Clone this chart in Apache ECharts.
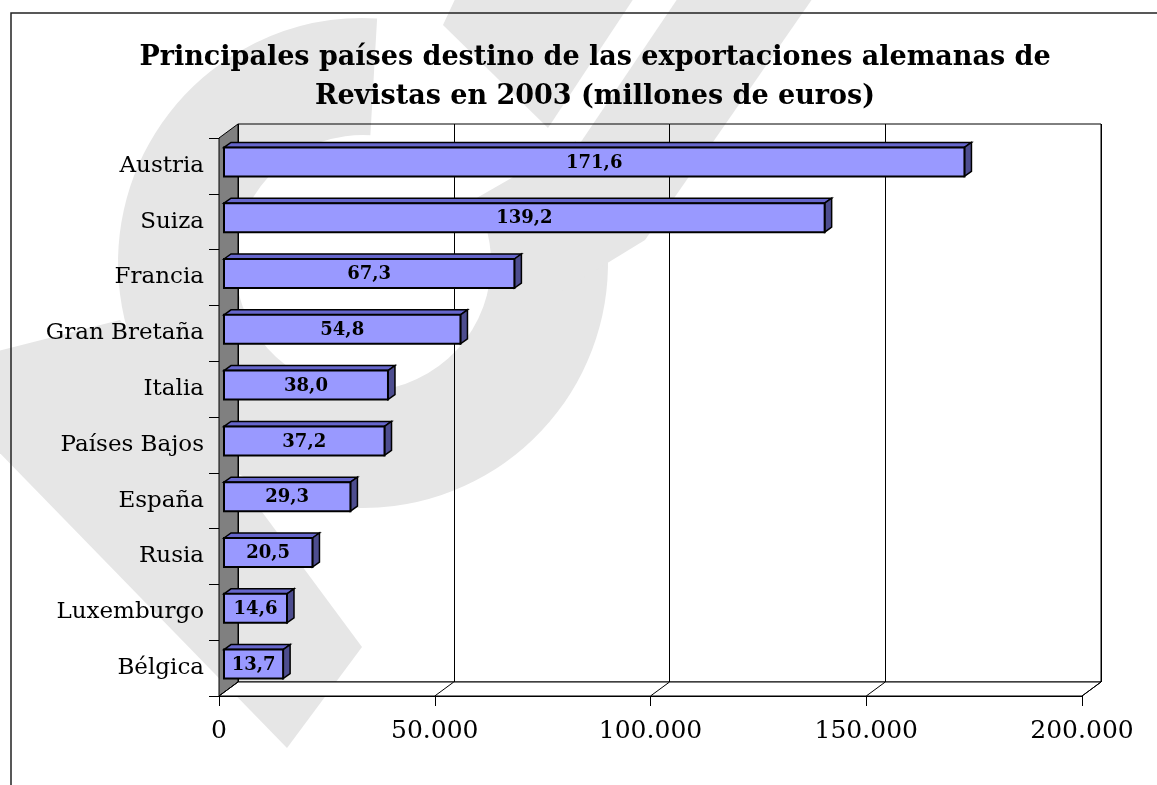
<!DOCTYPE html>
<html>
<head>
<meta charset="utf-8">
<title>Exportaciones alemanas de revistas 2003</title>
<script src="https://cdn.jsdelivr.net/npm/echarts@6/dist/echarts.min.js"></script>
<style>
  html, body { margin: 0; padding: 0; background: #fff; }
  #main { width: 1157px; height: 785px; }
</style>
</head>
<body>
<div id="main"></div>
<script>
// datos del gráfico
const paises = ['Austria', 'Suiza', 'Francia', 'Gran Bretaña', 'Italia', 'Países Bajos', 'España', 'Rusia', 'Luxemburgo', 'Bélgica'];
const millones = [171.6, 139.2, 67.3, 54.8, 38.0, 37.2, 29.3, 20.5, 14.6, 13.7]; // millones de euros
const ticksEje = [0, 50000, 100000, 150000, 200000]; // miles de euros
const titulo = 'Principales países destino de las exportaciones alemanas de\nRevistas en 2003 (millones de euros)';

const FONT = '"DejaVu Serif", serif';
const DX = 19, DY = 14; // profundidad de paredes y suelo
const BX = 5, BY = 4;   // la cara frontal de la barra queda un poco hacia dentro
const PX = 7, PY = 5;   // grosor de la barra

const myChart = echarts.init(document.getElementById('main'));

function fmtMiles(v) {
  return String(v).replace(/\B(?=(\d{3})+(?!\d))/g, '.');
}

// pared izquierda + suelo
function renderParedes(params, api) {
  const cs = params.coordSys;
  const x0 = cs.x, y0 = cs.y, y1 = cs.y + cs.height;
  const xEnd = api.coord([ticksEje[ticksEje.length - 1], 0])[0];
  const children = [
    {
      type: 'polygon',
      shape: { points: [[x0, y0], [x0 + DX, y0 - DY], [x0 + DX, y1 - DY], [x0, y1]] },
      style: { fill: '#808080', stroke: '#000', lineWidth: 1 }
    },
    {
      type: 'polygon',
      shape: { points: [[x0, y1], [x0 + DX, y1 - DY], [xEnd + DX, y1 - DY], [xEnd, y1]] },
      style: { fill: '#fff', stroke: '#000', lineWidth: 1 }
    }
  ];
  ticksEje.forEach(t => {
    const x = api.coord([t, 0])[0];
    children.push({
      type: 'line',
      shape: { x1: x, y1: y1, x2: x + DX, y2: y1 - DY },
      style: { stroke: '#000', lineWidth: 1 }
    });
  });
  return { type: 'group', children };
}

// barra 3D
function renderBarra(params, api) {
  const cat = api.value(0);
  const val = api.value(1);
  const p0 = api.coord([0, cat]);
  const p1 = api.coord([val, cat]);
  const h = api.size([0, 1])[1] * 0.52;
  const xa = p0[0] + BX, xb = p1[0] + BX;
  const yt = p0[1] - BY - h / 2, yb = yt + h;
  const texto = millones[params.dataIndex].toFixed(1).replace('.', ',');
  return {
    type: 'group',
    children: [
      {
        type: 'polygon',
        shape: { points: [[xa, yt], [xa + PX, yt - PY], [xb + PX, yt - PY], [xb, yt]] },
        style: { fill: '#6666cc', stroke: '#000', lineWidth: 1.5 }
      },
      {
        type: 'polygon',
        shape: { points: [[xb, yt], [xb + PX, yt - PY], [xb + PX, yb - PY], [xb, yb]] },
        style: { fill: '#4d4d8f', stroke: '#000', lineWidth: 1.5 }
      },
      {
        type: 'rect',
        shape: { x: xa, y: yt, width: xb - xa, height: h },
        style: { fill: '#9999ff', stroke: '#000', lineWidth: 2 }
      },
      {
        type: 'text',
        x: (xa + xb) / 2,
        y: (yt + yb) / 2 + 1,
        style: {
          text: texto,
          fill: '#000',
          fontFamily: FONT,
          fontWeight: 'bold',
          fontSize: 18,
          align: 'center',
          verticalAlign: 'middle'
        }
      }
    ]
  };
}

const option = {
  backgroundColor: '#fff',
  animation: false,
  title: {
    text: titulo,
    left: 590,
    top: 33,
    textAlign: 'center',
    textStyle: {
      fontFamily: FONT,
      fontWeight: 'bold',
      fontSize: 27,
      lineHeight: 39,
      color: '#000'
    }
  },
  graphic: [
    // marca de agua
    {
      type: 'sector', z: -10, silent: true,
      shape: { cx: 363, cy: 263, r: 245, r0: 128, startAngle: -0.52, endAngle: 4.77, clockwise: true },
      style: { fill: '#e6e6e6' }
    },
    {
      type: 'polygon', z: -10, silent: true,
      shape: { points: [[680, -5], [815, -5], [645, 240], [560, 292], [500, 262]] },
      style: { fill: '#e6e6e6' }
    },
    {
      type: 'polygon', z: -10, silent: true,
      shape: { points: [[457, -5], [636, -5], [548, 128], [443, 25]] },
      style: { fill: '#e6e6e6' }
    },
    {
      type: 'polygon', z: -10, silent: true,
      shape: { points: [[120, 320], [362, 647], [287, 748], [-80, 371]] },
      style: { fill: '#e6e6e6' }
    },
    // marco
    {
      type: 'rect', z: -5, silent: true,
      shape: { x: 11, y: 13, width: 1170, height: 800 },
      style: { fill: 'none', stroke: '#222', lineWidth: 1.5 }
    }
  ],
  grid: [
    { left: 219, top: 138, width: 863, height: 558 },
    { left: 238, top: 124, width: 863, height: 558, show: true, borderColor: '#000', borderWidth: 1, backgroundColor: 'transparent' }
  ],
  xAxis: [
    {
      gridIndex: 0, type: 'value', min: 0, max: 200000, interval: 50000,
      axisLine: { show: true, lineStyle: { color: '#000', width: 1 } },
      axisTick: { show: true, length: 10, lineStyle: { color: '#000' } },
      axisLabel: { color: '#000', fontFamily: FONT, fontSize: 25, margin: 23, formatter: fmtMiles },
      splitLine: { show: false }
    },
    {
      gridIndex: 1, type: 'value', min: 0, max: 200000, interval: 50000,
      axisLine: { show: false },
      axisTick: { show: false },
      axisLabel: { show: false },
      splitLine: { show: true, lineStyle: { color: '#000', width: 1 } }
    }
  ],
  yAxis: [
    {
      gridIndex: 0, type: 'category', data: paises, inverse: true,
      axisLine: { show: true, lineStyle: { color: '#000' } },
      axisTick: { show: true, length: 10, lineStyle: { color: '#000' } },
      axisLabel: { color: '#000', fontFamily: FONT, fontSize: 23, margin: 15 },
      splitLine: { show: false }
    },
    {
      gridIndex: 1, type: 'category', data: paises, inverse: true, show: false
    }
  ],
  series: [
    {
      type: 'custom',
      name: 'paredes',
      xAxisIndex: 0, yAxisIndex: 0,
      z: 3,
      silent: true,
      renderItem: renderParedes,
      data: [[0, 0]],
      encode: { x: 1, y: 0 }
    },
    {
      type: 'custom',
      name: 'exportaciones',
      xAxisIndex: 0, yAxisIndex: 0,
      z: 5,
      renderItem: renderBarra,
      data: paises.map((p, i) => [i, millones[i] * 1000]),
      encode: { x: 1, y: 0 }
    }
  ]
};

myChart.setOption(option);
</script>
</body>
</html>
